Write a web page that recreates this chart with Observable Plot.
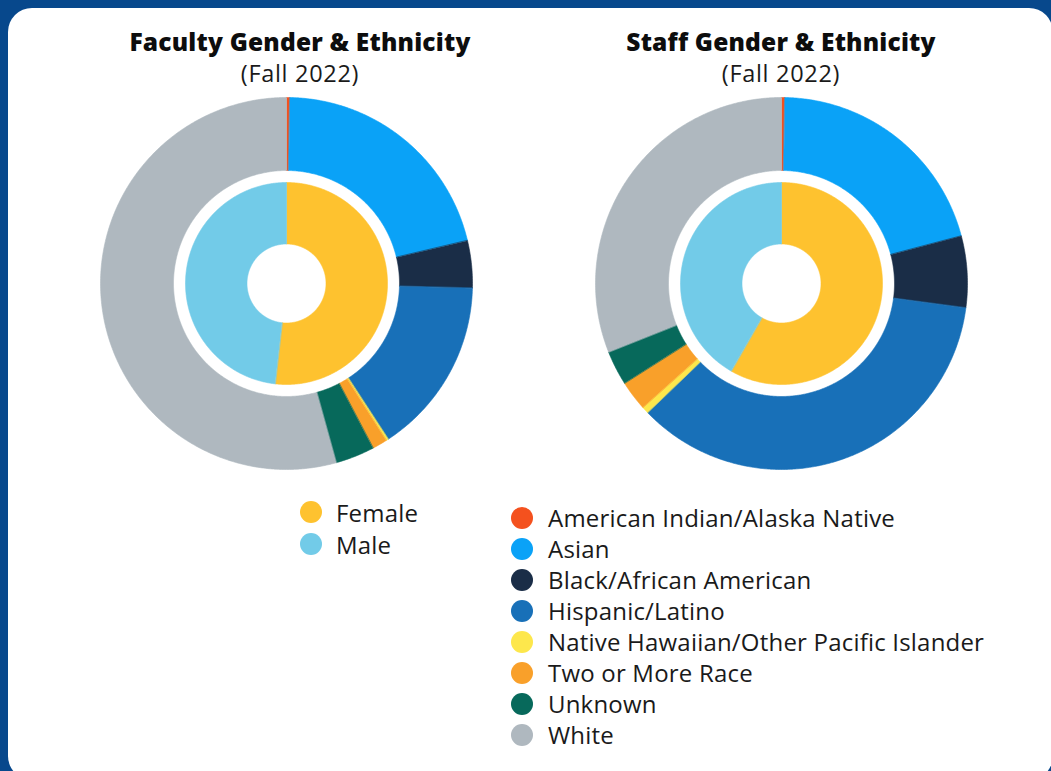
<!DOCTYPE html>
<html>
<head>
<meta charset="utf-8">
<script src="https://cdn.jsdelivr.net/npm/d3@7"></script>
<script src="https://cdn.jsdelivr.net/npm/@observablehq/plot@0.6"></script>
<style>
  html, body { margin: 0; padding: 0; }
  body { width: 1051px; height: 771px; background: #07488C; position: relative; overflow: hidden; font-family: "Open Sans", Lato, sans-serif; color: #111; }
  #card { position: absolute; left: 8px; top: 8px; width: 1045px; height: 772px; background: #fff; border-radius: 24px; }
  .title { position: absolute; width: 460px; text-align: center; font-weight: 800; font-size: 24.5px; line-height: 28px; color: #0d0d0d; letter-spacing: 0.2px; }
  .sub { position: absolute; width: 460px; text-align: center; font-weight: 500; font-size: 23.5px; line-height: 26px; color: #1a1a1a; letter-spacing: 0.7px; }
  .chart { position: absolute; }
  .legend { position: absolute; }
  .legend .row { display: flex; align-items: center; height: 31px; font-size: 24px; color: #1a1a1a; white-space: nowrap; letter-spacing: 0.2px; }
  .legend .sw { width: 22px; height: 22px; border-radius: 50%; margin-right: 15px; flex: none; }
</style>
</head>
<body>
<div id="card"></div>
<div class="title" style="left:70px; top:28px;">Faculty Gender &amp; Ethnicity</div>
<div class="sub" style="left:70px; top:60px;">(Fall 2022)</div>
<div class="title" style="left:551px; top:28px;">Staff Gender &amp; Ethnicity</div>
<div class="sub" style="left:551px; top:60px;">(Fall 2022)</div>
<div id="facultyChart" class="chart" style="left:96px; top:93px;"></div>
<div id="staffChart" class="chart" style="left:591px; top:93px;"></div>
<div id="genderLegend" class="legend" style="left:300px; top:496px;"></div>
<div id="ethLegend" class="legend" style="left:511px; top:502px;"></div>
<script>
// ---- Data ----
const genders = ["Female", "Male"];
const genderColors = ["#FEC22F", "#72CBE8"];
const ethnicities = [
  "American Indian/Alaska Native",
  "Asian",
  "Black/African American",
  "Hispanic/Latino",
  "Native Hawaiian/Other Pacific Islander",
  "Two or More Race",
  "Unknown",
  "White"
];
const ethnicityColors = ["#F4511E", "#0AA2F7", "#1A2D47", "#1870B8", "#FDE74C", "#F9A02A", "#07695B", "#AFB8BF"];

// percentages
const facultyGender = [51.8, 48.2];
const facultyEthnicity = [0.3, 21.0, 4.1, 15.4, 0.2, 1.3, 3.4, 54.3];
const staffGender = [58.3, 41.7];
const staffEthnicity = [0.3, 20.6, 6.2, 35.7, 0.6, 2.6, 3.0, 31.0];

// ---- Geometry helpers (ring polygons built from the data via d3.pie) ----
const rings = {
  inner: [0.2124, 0.543],
  outer: [0.6075, 1.0]
};
function ringPolygons(keys, values, ring, prefix) {
  const [r0, r1] = rings[ring];
  const arcs = d3.pie().sort(null).value(d => d.value)(keys.map((k, i) => ({key: k, value: values[i]})));
  const pts = [];
  for (const a of arcs) {
    if (a.endAngle - a.startAngle <= 0) continue;
    const n = Math.max(2, Math.ceil((a.endAngle - a.startAngle) / (Math.PI / 360)));
    const id = prefix + ":" + a.data.key;
    for (let i = 0; i <= n; i++) {
      const t = a.startAngle + (a.endAngle - a.startAngle) * i / n;
      pts.push({id, key: a.data.key, x: Math.sin(t) * r1, y: Math.cos(t) * r1});
    }
    for (let i = n; i >= 0; i--) {
      const t = a.startAngle + (a.endAngle - a.startAngle) * i / n;
      pts.push({id, key: a.data.key, x: Math.sin(t) * r0, y: Math.cos(t) * r0});
    }
  }
  return pts;
}

const R = 190 / 186;
function donut(genderVals, ethVals) {
  const data = [
    ...ringPolygons(ethnicities, ethVals, "outer", "eth"),
    ...ringPolygons(genders, genderVals, "inner", "gen")
  ];
  return Plot.plot({
    width: 380,
    height: 380,
    margin: 0,
    x: {domain: [-R, R], axis: null},
    y: {domain: [-R, R], axis: null},
    color: {domain: [...ethnicities, ...genders], range: [...ethnicityColors, ...genderColors]},
    style: {background: "transparent", overflow: "visible"},
    marks: [
      Plot.line(data, {x: "x", y: "y", z: "id", fill: "key", stroke: "key", strokeWidth: 0.6, curve: "linear-closed"})
    ]
  });
}

document.getElementById("facultyChart").append(donut(facultyGender, facultyEthnicity));
document.getElementById("staffChart").append(donut(staffGender, staffEthnicity));

function legend(el, keys, colors, rowH, gap) {
  const root = document.getElementById(el);
  keys.forEach((k, i) => {
    const row = document.createElement("div");
    row.className = "row";
    row.style.height = rowH + "px";
    const sw = document.createElement("span");
    sw.className = "sw";
    sw.style.background = colors[i];
    sw.style.marginRight = gap + "px";
    const tx = document.createElement("span");
    tx.textContent = k;
    row.append(sw, tx);
    root.append(row);
  });
}
legend("genderLegend", genders, genderColors, 32, 14);
legend("ethLegend", ethnicities, ethnicityColors, 31, 15);
</script>
</body>
</html>
